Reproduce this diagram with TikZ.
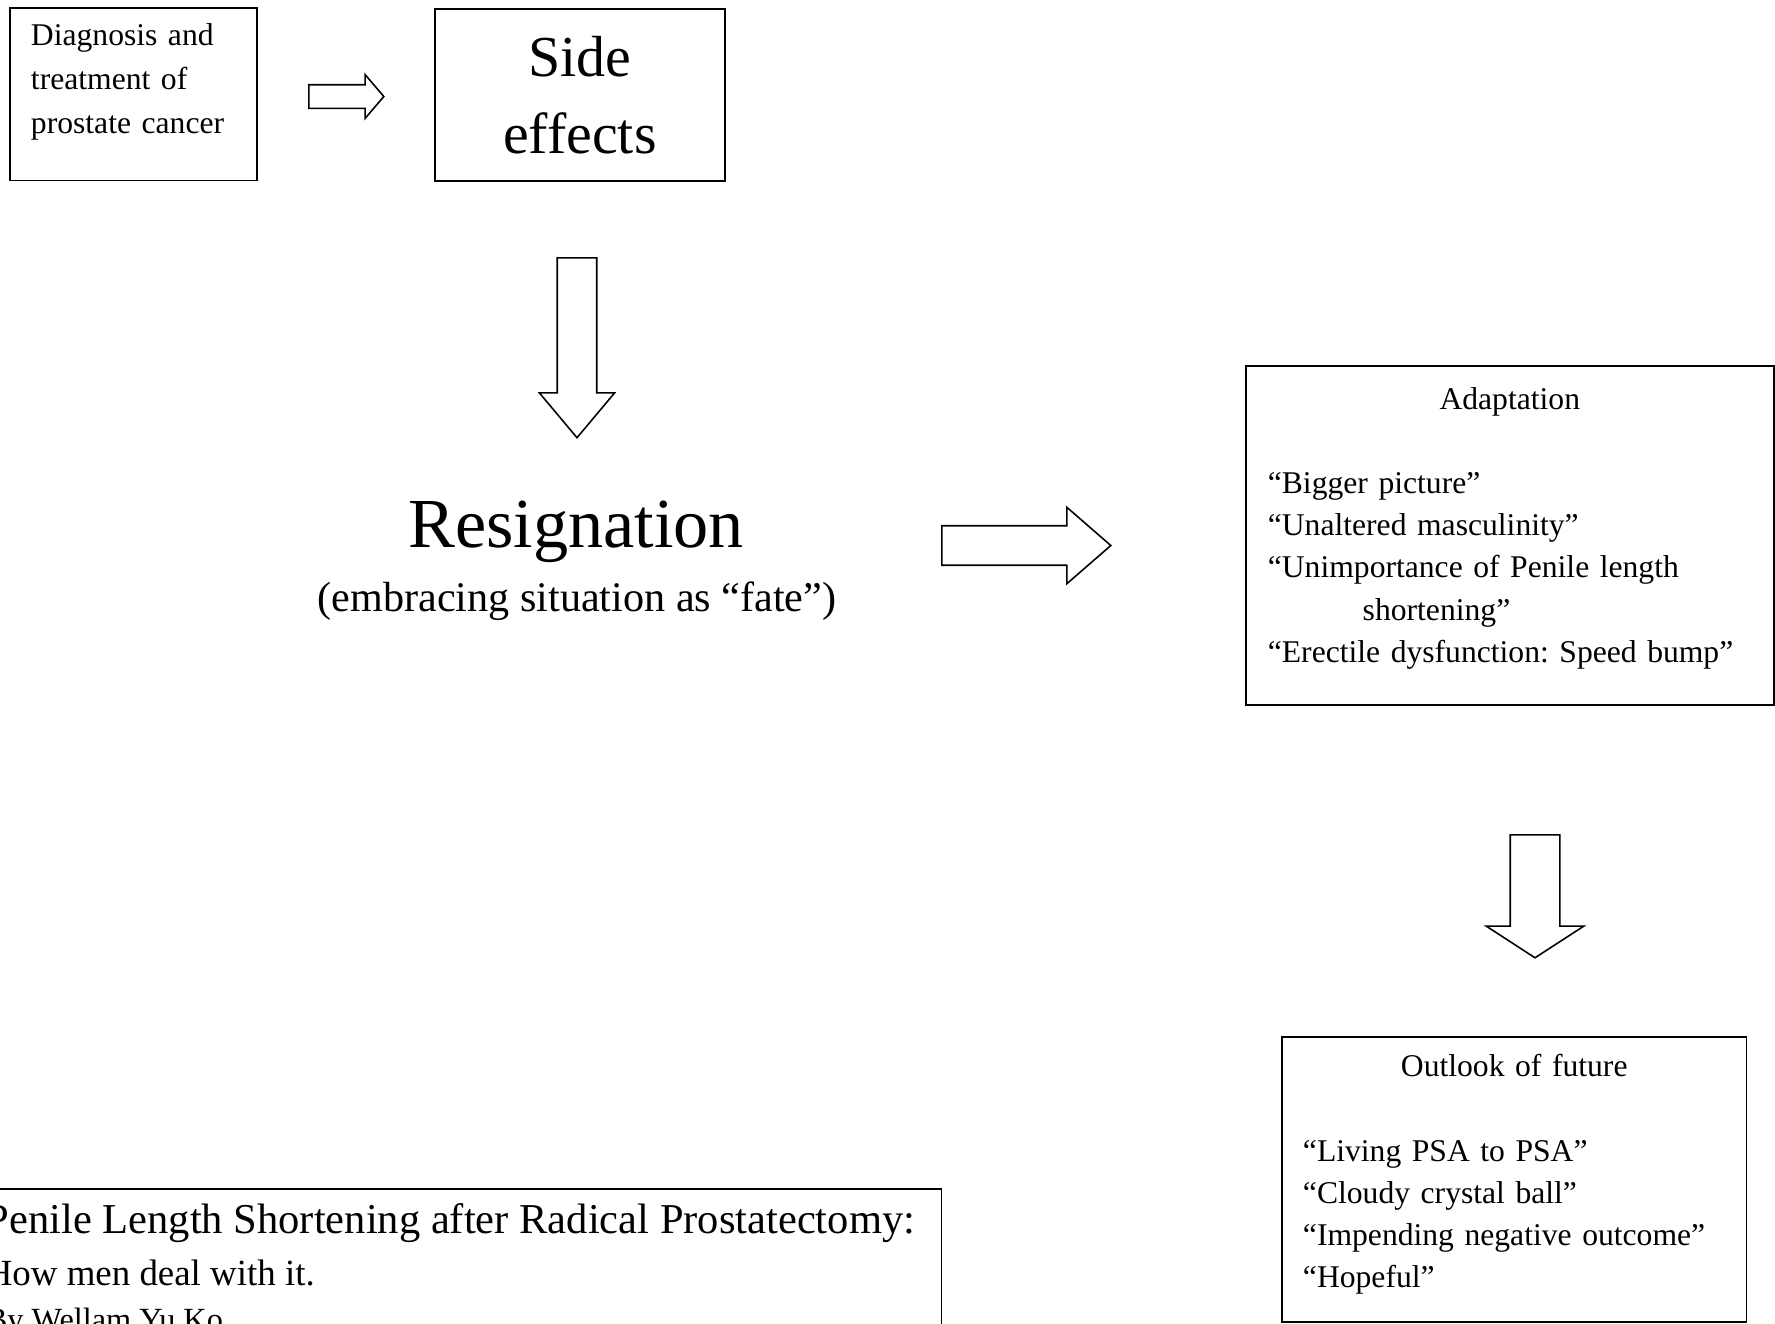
\documentclass[tikz,border=0pt]{standalone}
\usepackage{fontspec}
\setmainfont{Liberation Serif}
\frenchspacing
\usetikzlibrary{shapes.arrows}
\begin{document}
\begin{tikzpicture}[x=0.02cm, y=-0.02cm, line join=miter,
  box/.style={draw, line width=1pt},
  txt/.style={font=\fontsize{18}{24}\selectfont},
  fat/.style={single arrow, draw, line width=0.9pt, anchor=tail, inner xsep=0pt, minimum width=0pt, single arrow head indent=0pt}]
\clip (0,0) rectangle (1775,1323);
% top row
\node[box, font=\fontsize{18}{25}\selectfont, anchor=north west, text width=116.6pt, inner xsep=12pt, inner ysep=8.8pt, align=left] (diag) at (9,7) {Diagnosis and\\ treatment of\\ prostate cancer\rule[-18.2pt]{0pt}{0pt}};
\node[box, anchor=north west, minimum width=165pt, minimum height=97.9pt, align=center, font=\fontsize{33}{44}\selectfont] (side) at (434,8) {Side\\ effects};
\node[fat, minimum height=42.7pt, inner ysep=6.26pt, single arrow head extend=5.7pt, single arrow tip angle=99] (arr1) at (308,96.5) {};
\node[fat, rotate=-90, minimum height=102.4pt, inner ysep=10.8pt, single arrow head extend=10.2pt, single arrow tip angle=80] (arr2) at (577,257) {};
% middle
\node[anchor=base, inner sep=0pt, font=\fontsize{40}{48}\selectfont] (resign) at (576,547) {Resignation};
\node[anchor=base, inner sep=0pt, font=\fontsize{24}{29}\selectfont] (fate) at (577,611) {(embracing situation as ``fate'')};
\node[fat, minimum height=96.2pt, inner ysep=10.8pt, single arrow head extend=10.5pt, single arrow tip angle=82] (arr3) at (941,545.5) {};
% right column
\node[box, txt, anchor=north west, text width=275.4pt, inner xsep=12.5pt, inner ysep=12.2pt, align=left] (adapt) at (1245,365) {\makebox[\linewidth]{Adaptation}\\[24pt] ``Bigger picture''\\ ``Unaltered masculinity''\\ ``Unimportance of Penile length\\ \hspace*{54pt}shortening''\\ ``Erectile dysfunction: Speed bump''\rule[-12pt]{0pt}{0pt}};
\node[fat, rotate=-90, minimum height=70pt, inner ysep=13.66pt, single arrow head extend=13.66pt, single arrow tip angle=114] (arr4) at (1535,834) {};
\node[box, txt, anchor=north west, text width=240.5pt, inner xsep=12pt, inner ysep=10pt, align=left] (future) at (1281,1036) {\makebox[\linewidth]{Outlook of future}\\[24pt] ``Living PSA to PSA''\\ ``Cloudy crystal ball''\\ ``Impending negative outcome''\\ ``Hopeful''\rule[-9.5pt]{0pt}{0pt}};
% title box
\node[box, font=\fontsize{24.2}{25.6}\selectfont, anchor=north west, text width=529.8pt, inner xsep=14.2pt, inner ysep=8.2pt, align=left] (title) at (-40,1188) {\mbox{\spaceskip=.25em Penile Length Shortening after Radical Prostatectomy:}\\[4pt] \fontsize{21}{25.6}\selectfont \mbox{\spaceskip=.25em How men deal with it.}\\ \fontsize{18.4}{25.6}\selectfont \mbox{\spaceskip=.25em By Wellam Yu Ko}\rule[-30pt]{0pt}{0pt}\par};
\end{tikzpicture}
\end{document}
